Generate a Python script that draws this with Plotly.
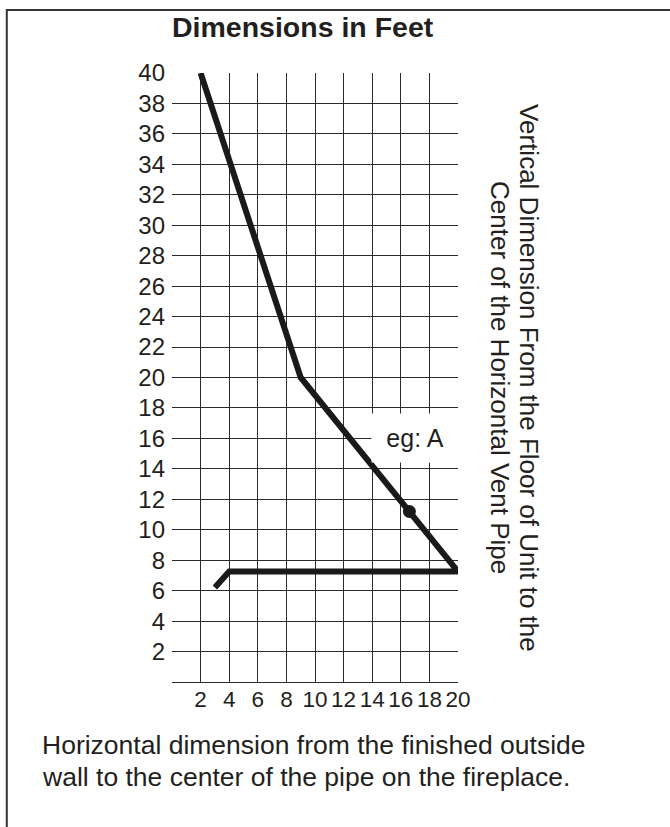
import plotly.graph_objects as go

# ---- data ----
curve_x = [2, 9, 20, 4, 3]
curve_y = [40, 20, 7.25, 7.25, 6.2]
example_x = [16.6]
example_y = [11.2]
example_label = "eg: A"
x_ticks = [2, 4, 6, 8, 10, 12, 14, 16, 18, 20]
y_ticks = [2, 4, 6, 8, 10, 12, 14, 16, 18, 20, 22, 24, 26, 28, 30, 32, 34, 36, 38, 40]
title_text = "Dimensions in Feet"
right_line1 = "Vertical Dimension From the Floor of Unit to the"
right_line2 = "Center of the Horizontal Vent Pipe"
bottom_line1 = "Horizontal dimension from the finished outside"
bottom_line2 = "wall to the center of the pipe on the fireplace."

INK = "#231f20"
GRID = "#2b2b2b"
FONT = "Liberation Sans, Arial, sans-serif"

W, H = 670, 827
L, R, T, B = 171.5, 212, 73, 145
pw, ph = W - L - R, H - T - B

def px_to_paper_x(px):
    return (px - L) / pw

def py_to_paper_y(py):
    return (H - B - py) / ph

fig = go.Figure()
fig.add_trace(go.Scatter(x=curve_x, y=curve_y, mode="lines",
                         line=dict(color="#1a1a1a", width=6), hoverinfo="skip"))
fig.add_trace(go.Scatter(x=example_x, y=example_y, mode="markers",
                         marker=dict(color="#1a1a1a", size=13), hoverinfo="skip"))

fig.update_layout(
    width=W, height=H,
    margin=dict(l=L, r=R, t=T, b=B, pad=0),
    paper_bgcolor="white", plot_bgcolor="white",
    showlegend=False,
    font=dict(family=FONT, color=INK),
    title=dict(text="<b>" + title_text + "</b>", x=0, xref="paper", xanchor="left",
               y=1 - 27 / H, yref="container", yanchor="middle",
               font=dict(size=28.5, family=FONT, color=INK)),
    xaxis=dict(range=[0, 20], tickvals=x_ticks, ticktext=[str(v) for v in x_ticks],
               tickangle=0, showgrid=True, gridcolor=GRID, gridwidth=1.3,
               zeroline=False, showline=True, linecolor=GRID, linewidth=1.3,
               ticks="", tickfont=dict(size=22.5, family=FONT, color=INK),
               ticklabelstandoff=-3, fixedrange=True),
    yaxis=dict(range=[0, 40], tickvals=y_ticks, ticktext=[str(v) for v in y_ticks],
               showgrid=True, gridcolor=GRID, gridwidth=1.3,
               zeroline=False, showline=False, ticks="",
               tickfont=dict(size=24, family=FONT, color=INK),
               ticklabelstandoff=6, fixedrange=True),
)

# example label box
fig.add_annotation(x=16.98, y=16.0, xref="x", yref="y", text=example_label,
                   showarrow=False, bgcolor="white", width=84, height=46,
                   font=dict(size=25, family=FONT, color=INK))

# right rotated label (two lines)
fig.add_annotation(x=px_to_paper_x(529), y=py_to_paper_y(378), xref="paper", yref="paper",
                   text=right_line1, textangle=90, showarrow=False,
                   font=dict(size=26, family=FONT, color=INK),
                   xanchor="center", yanchor="middle")
fig.add_annotation(x=px_to_paper_x(500), y=py_to_paper_y(378), xref="paper", yref="paper",
                   text=right_line2, textangle=90, showarrow=False,
                   font=dict(size=26, family=FONT, color=INK),
                   xanchor="center", yanchor="middle")

# bottom caption (two lines)
fig.add_annotation(x=px_to_paper_x(39), y=py_to_paper_y(745), xref="paper", yref="paper",
                   text=bottom_line1, showarrow=False, align="left",
                   xanchor="left", yanchor="middle",
                   font=dict(size=26.5, family=FONT, color=INK))
fig.add_annotation(x=px_to_paper_x(39), y=py_to_paper_y(777), xref="paper", yref="paper",
                   text=bottom_line2, showarrow=False, align="left",
                   xanchor="left", yanchor="middle",
                   font=dict(size=26.5, family=FONT, color=INK))

# page frame
fig.add_shape(type="rect", xref="paper", yref="paper",
              x0=px_to_paper_x(6), x1=px_to_paper_x(700),
              y0=py_to_paper_y(900), y1=py_to_paper_y(10),
              line=dict(color="#333333", width=2), layer="below")

fig.write_html("out.html", config={"displayModeBar": False},
               post_script="document.body.style.margin='0';")
